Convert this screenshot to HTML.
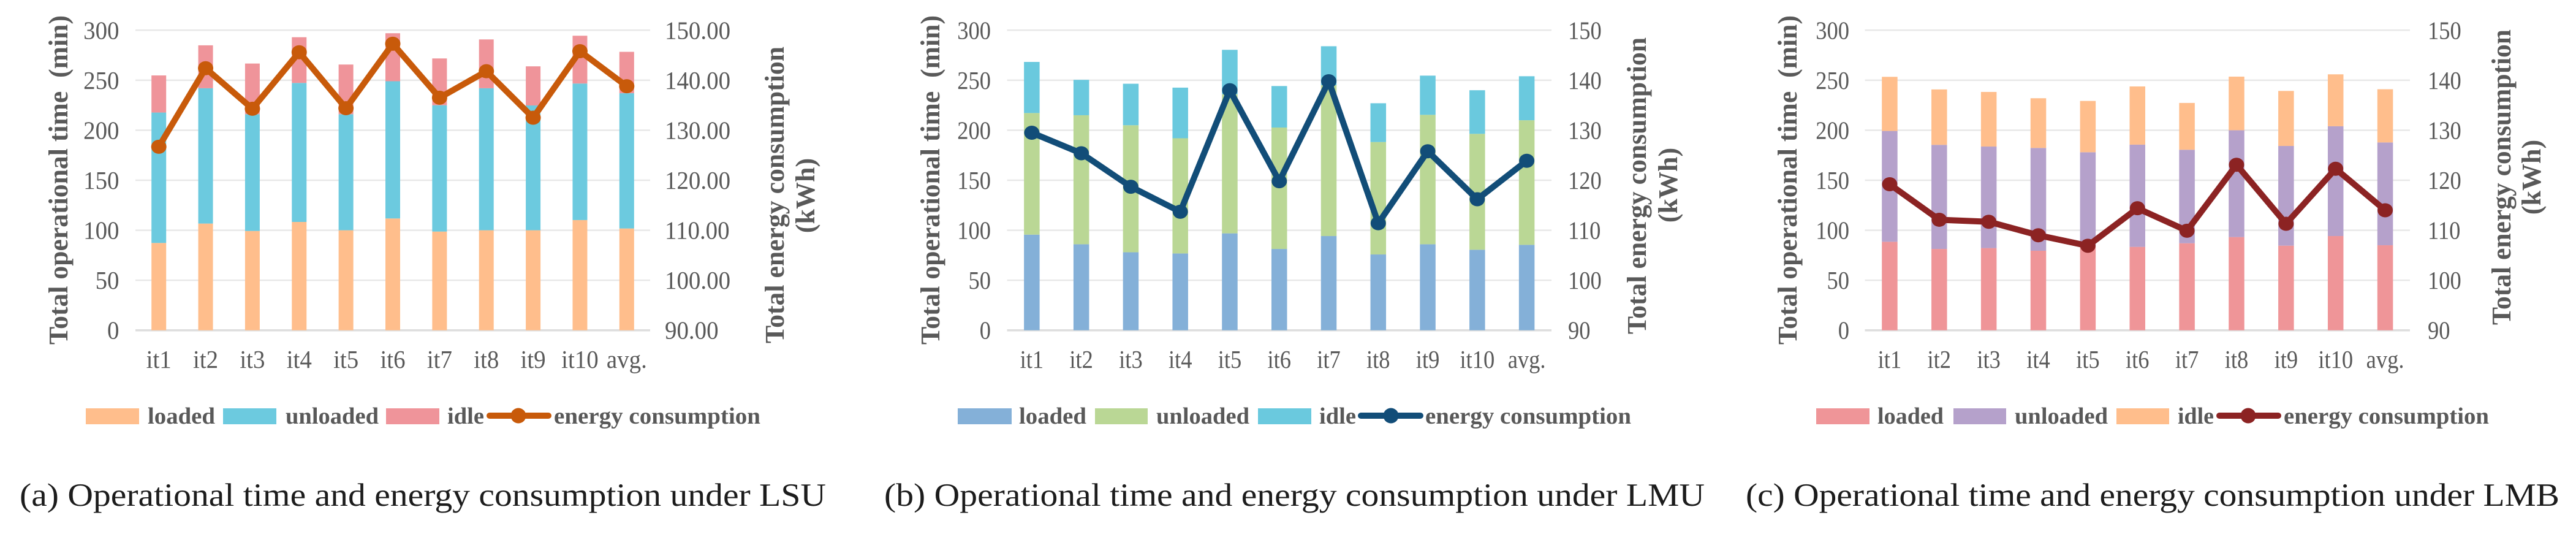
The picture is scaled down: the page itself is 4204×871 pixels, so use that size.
<!DOCTYPE html>
<html lang="en">
<head>
<meta charset="utf-8">
<title>Operational time and energy consumption</title>
<style>
html,body{margin:0;padding:0;background:#fff;}
svg{display:block;}
text{font-family:"Liberation Serif",serif;white-space:pre;}
.tick{fill:#595959;font-size:41px;}
.title{fill:#595959;font-size:44px;font-weight:bold;}
.leg{fill:#595959;font-size:38px;font-weight:bold;}
.cap{fill:#1c1c1c;font-size:53px;}
</style>
</head>
<body>
<svg id="figure" xmlns="http://www.w3.org/2000/svg" width="4204" height="871" viewBox="0 0 4204 871">
  <rect x="0" y="0" width="4204" height="871" fill="#ffffff"/>

  <g id="panel-a">
    <text class="title" transform="translate(110,562) rotate(-90)" textLength="537" lengthAdjust="spacingAndGlyphs">Total operational time  (min)</text>
    <text class="title" transform="translate(1279,560) rotate(-90)" textLength="484" lengthAdjust="spacingAndGlyphs">Total energy consumption</text>
    <text class="title" transform="translate(1329,319) rotate(-90)" text-anchor="middle">(kWh)</text>
    <g>
      <rect x="140" y="666" width="87" height="26" fill="#FFBE8C"/>
      <text class="leg" x="241" y="691" textLength="110" lengthAdjust="spacingAndGlyphs">loaded</text>
      <rect x="364" y="666" width="87" height="26" fill="#6CCADF"/>
      <text class="leg" x="466" y="691" textLength="152" lengthAdjust="spacingAndGlyphs">unloaded</text>
      <rect x="630" y="666" width="87" height="26" fill="#EF949A"/>
      <text class="leg" x="730" y="691" textLength="60" lengthAdjust="spacingAndGlyphs">idle</text>
      <line x1="799" y1="678" x2="895" y2="678" stroke="#C85A0A" stroke-width="10" stroke-linecap="round"/>
      <circle cx="846" cy="678" r="12.5" fill="#C85A0A"/>
      <text class="leg" x="904" y="691" textLength="337" lengthAdjust="spacingAndGlyphs">energy consumption</text>
    </g>
    <text class="cap" x="32" y="825" textLength="1316" lengthAdjust="spacingAndGlyphs">(a) Operational time and energy consumption under LSU</text>
  </g>

  <g id="panel-b">
    <text class="title" transform="translate(1533,562) rotate(-90)" textLength="537" lengthAdjust="spacingAndGlyphs">Total operational time  (min)</text>
    <text class="title" transform="translate(2686,545) rotate(-90)" textLength="484" lengthAdjust="spacingAndGlyphs">Total energy consumption</text>
    <text class="title" transform="translate(2737,302) rotate(-90)" text-anchor="middle">(kWh)</text>
    <g>
      <rect x="1563" y="666" width="88" height="26" fill="#84B0D8"/>
      <text class="leg" x="1663" y="691" textLength="110" lengthAdjust="spacingAndGlyphs">loaded</text>
      <rect x="1787" y="666" width="86" height="26" fill="#BAD795"/>
      <text class="leg" x="1887" y="691" textLength="152" lengthAdjust="spacingAndGlyphs">unloaded</text>
      <rect x="2053" y="666" width="87" height="26" fill="#6AC9DE"/>
      <text class="leg" x="2153" y="691" textLength="60" lengthAdjust="spacingAndGlyphs">idle</text>
      <line x1="2221" y1="678" x2="2318" y2="678" stroke="#124D78" stroke-width="10" stroke-linecap="round"/>
      <circle cx="2270" cy="678" r="12.5" fill="#124D78"/>
      <text class="leg" x="2326" y="691" textLength="336" lengthAdjust="spacingAndGlyphs">energy consumption</text>
    </g>
    <text class="cap" x="1443" y="825" textLength="1339" lengthAdjust="spacingAndGlyphs">(b) Operational time and energy consumption under LMU</text>
  </g>

  <g id="panel-c">
    <text class="title" transform="translate(2932,562) rotate(-90)" textLength="537" lengthAdjust="spacingAndGlyphs">Total operational time  (min)</text>
    <text class="title" transform="translate(4097,530) rotate(-90)" textLength="482" lengthAdjust="spacingAndGlyphs">Total energy consumption</text>
    <text class="title" transform="translate(4146,289) rotate(-90)" text-anchor="middle">(kWh)</text>
    <g>
      <rect x="2964" y="666" width="87" height="26" fill="#EF9598"/>
      <text class="leg" x="3064" y="691" textLength="108" lengthAdjust="spacingAndGlyphs">loaded</text>
      <rect x="3188" y="666" width="86" height="26" fill="#B5A1CB"/>
      <text class="leg" x="3288" y="691" textLength="152" lengthAdjust="spacingAndGlyphs">unloaded</text>
      <rect x="3454" y="666" width="86" height="26" fill="#FFBE8C"/>
      <text class="leg" x="3554" y="691" textLength="59" lengthAdjust="spacingAndGlyphs">idle</text>
      <line x1="3622" y1="678" x2="3718" y2="678" stroke="#8C2323" stroke-width="10" stroke-linecap="round"/>
      <circle cx="3669" cy="678" r="12.5" fill="#8C2323"/>
      <text class="leg" x="3727" y="691" textLength="335" lengthAdjust="spacingAndGlyphs">energy consumption</text>
    </g>
    <text class="cap" x="2849" y="825" textLength="1328" lengthAdjust="spacingAndGlyphs">(c) Operational time and energy consumption under LMB</text>
  </g>
</svg>

<script>
// Shared axis data
const categories = ['it1','it2','it3','it4','it5','it6','it7','it8','it9','it10','avg.'];
const leftTicks = [0,50,100,150,200,250,300];
const rightTickValues = [90,100,110,120,130,140,150];
const rightTicksA = ['90.00','100.00','110.00','120.00','130.00','140.00','150.00'];
const rightTicksB = ['90','100','110','120','130','140','150'];
const rightTicksC = ['90','100','110','120','130','140','150'];

// Panel (a) LSU
const loadedA = [87.3,106.7,99.3,108.3,100,111.8,98.7,100,100,110.2,101.8];
const unloadedA = [130.4,135.3,116.7,139,116,137.2,126.3,142,124.8,136.5,135.2];
const idleA = [37.1,42.9,50.7,45.7,49.7,48,46.8,48.8,39.1,47.8,41.4];
const energyA = [126.7,142.4,134.3,145.6,134.4,147.3,136.5,141.8,132.5,145.8,138.8];

// Panel (b) LMU
const loadedB = [95.6,86,78,76.8,96.9,81.3,94.2,75.8,86,80.5,85.4];
const unloadedB = [121.6,129,127,115.2,139.1,121.4,150.8,112.4,129.4,115.9,124.6];
const idleB = [51.1,35.4,41.5,50.6,44.4,41.5,39,38.8,39.2,43.6,44];
const energyB = [129.5,125.4,118.7,113.7,138,119.8,139.8,111.4,125.8,116.2,123.9];

// Panel (c) LMB
const loadedC = [88.5,81.3,82.2,79.5,84.4,83.4,87,93.2,84.6,94.2,85];
const unloadedC = [110.8,104.1,101.5,102.8,93.6,102.2,93.5,106.8,99.7,109.8,102.8];
const idleC = [54.1,55.4,54.6,49.7,51.3,58.2,46.8,53.6,55,51.9,53.2];
const energyC = [119.2,112.1,111.7,109,106.9,114.4,109.9,123.1,111.3,122.3,114];

const NS = 'http://www.w3.org/2000/svg';
const PLOT_TOP = 49.3;
const PLOT_BOTTOM = 538.7;

function yLeft(v){ return PLOT_BOTTOM - (v / 300) * (PLOT_BOTTOM - PLOT_TOP); }
function yRight(v){ return PLOT_BOTTOM - ((v - 90) / 60) * (PLOT_BOTTOM - PLOT_TOP); }

function make(tag, attrs, parent){
  const el = document.createElementNS(NS, tag);
  for (const k in attrs) el.setAttribute(k, attrs[k]);
  parent.appendChild(el);
  return el;
}

function label(parent, str, x, y, sx, anchor){
  const el = make('text', {
    'class': 'tick',
    transform: 'translate(' + x + ',' + y + ') scale(' + sx + ',1)',
    'text-anchor': anchor
  }, parent);
  el.textContent = str;
  return el;
}

function drawPanel(host, o){
  const band = (o.x1 - o.x0) / categories.length;
  const xAt = function(i){ return o.x0 + (i + 0.5) * band; };

  leftTicks.forEach(function(t){
    const grid = make('line', {
      x1: o.x0, x2: o.x1, y1: yLeft(t), y2: yLeft(t),
      stroke: t === 0 ? '#dedede' : '#e8e8e8',
      'stroke-width': t === 0 ? 3.5 : 2.5
    }, host);
    
    
    const tl = label(host, String(t), o.leftTickX, yLeft(t) + 14, o.sx, 'end');
    
    
  });

  rightTickValues.forEach(function(v, i){
    const tr = label(host, o.rightTicks[i], o.rightTickX, yRight(v) + 14, o.sx, 'start');
    
    
  });

  categories.forEach(function(c, i){
    const cx = xAt(i);
    const a = o.loaded[i], b = o.unloaded[i], d = o.idle[i];
    const r1 = make('rect', {x: cx - o.barW / 2, y: yLeft(a), width: o.barW, height: yLeft(0) - yLeft(a), fill: o.colors[0]}, host);
    
    
    const r2 = make('rect', {x: cx - o.barW / 2, y: yLeft(a + b), width: o.barW, height: yLeft(a) - yLeft(a + b), fill: o.colors[1]}, host);
    
    
    const r3 = make('rect', {x: cx - o.barW / 2, y: yLeft(a + b + d), width: o.barW, height: yLeft(a + b) - yLeft(a + b + d), fill: o.colors[2]}, host);
    
    
    const cl = label(host, c, cx, 600, o.sx, 'middle');
    
    
  });

  const pts = o.energy.map(function(v, i){ return xAt(i) + ',' + yRight(v); }).join(' ');
  const line = make('polyline', {points: pts, fill: 'none', stroke: o.lineColor, 'stroke-width': 10, 'stroke-linejoin': 'round'}, host);
  
  
  o.energy.forEach(function(v, i){
    const m = make('ellipse', {cx: xAt(i), cy: yRight(v), rx: 12.5, ry: 11.5, fill: o.lineColor}, host);
    
    
  });
}

drawPanel(document.getElementById('panel-a'), {
  x0: 221, x1: 1061, barW: 24, sx: 0.95, leftTickX: 194.5, rightTickX: 1085,
  rightTicks: rightTicksA, loaded: loadedA, unloaded: unloadedA, idle: idleA, energy: energyA,
  colors: ['#FFBE8C', '#6CCADF', '#EF949A'], lineColor: '#C85A0A'
});
drawPanel(document.getElementById('panel-b'), {
  x0: 1643.5, x1: 2532, barW: 25.5, sx: 0.89, leftTickX: 1617, rightTickX: 2559,
  rightTicks: rightTicksB, loaded: loadedB, unloaded: unloadedB, idle: idleB, energy: energyB,
  colors: ['#84B0D8', '#BAD795', '#6AC9DE'], lineColor: '#124D78'
});
drawPanel(document.getElementById('panel-c'), {
  x0: 3043.5, x1: 3933, barW: 25.5, sx: 0.89, leftTickX: 3018, rightTickX: 3962,
  rightTicks: rightTicksC, loaded: loadedC, unloaded: unloadedC, idle: idleC, energy: energyC,
  colors: ['#EF9598', '#B5A1CB', '#FFBE8C'], lineColor: '#8C2323'
});
</script>
</body>
</html>
